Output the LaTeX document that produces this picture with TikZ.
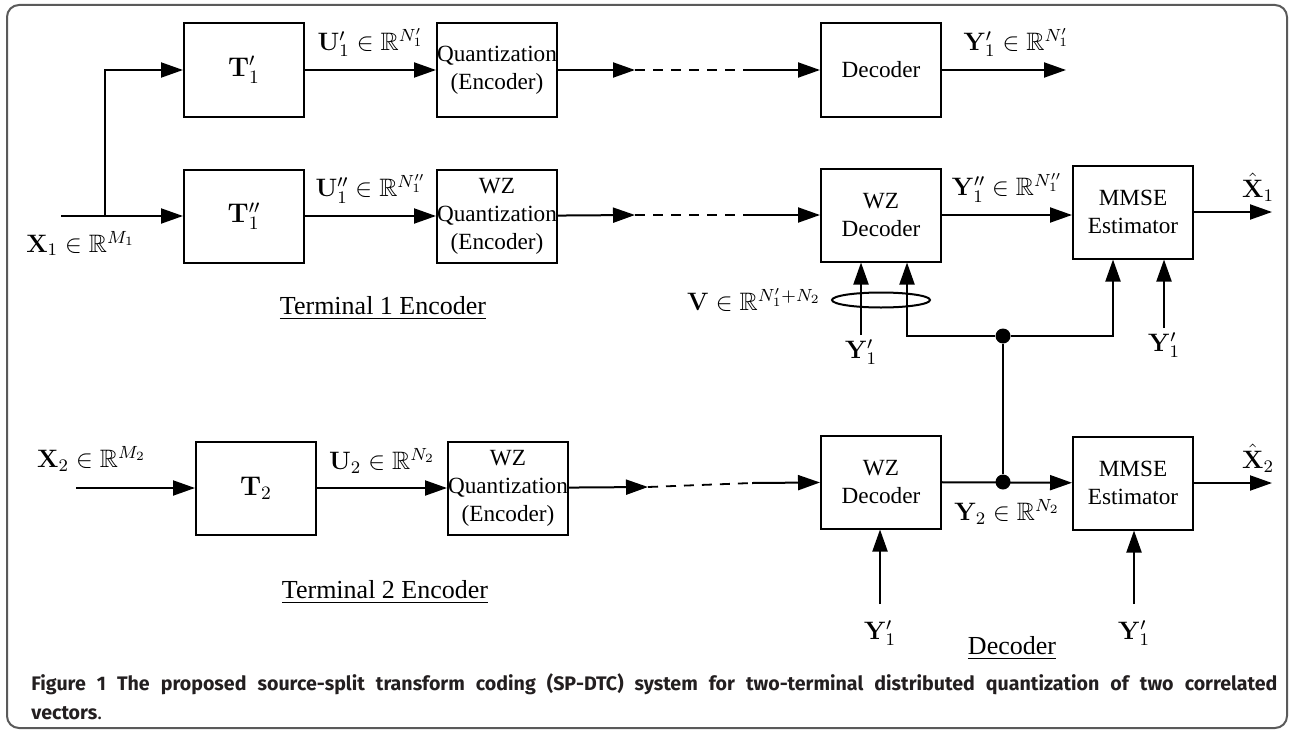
\RequirePackage{fix-cm}
\documentclass[tikz,border=0pt]{standalone}
\usepackage{amsmath,amssymb}
\usepackage[no-math]{fontspec}
\setmainfont{Liberation Serif}
\newfontfamily\capfont{Fira Sans}
\usepackage{xcolor}
\usepackage{tikz}
\usetikzlibrary{calc,arrows.meta,positioning,shapes.geometric}
\definecolor{framec}{HTML}{5A5A5A}
\definecolor{capc}{HTML}{231F20}
\tikzset{
  ar/.style={-{Triangle[length=11pt,width=7.5pt]},line width=1pt},
  ln/.style={line width=1pt},
  dsh/.style={line width=0.9pt,dash pattern=on 5pt off 4pt},
  box/.style={draw,line width=1pt,minimum width=60pt,minimum height=46.5pt,inner sep=0pt,align=center,font=\fontsize{11.6}{14}\selectfont},
  tbox/.style={box,font=\fontsize{13.5}{15}\selectfont},
  lbl/.style={font=\fontsize{12.6}{14}\selectfont,inner sep=2pt},
  jdot/.style={circle,fill,minimum size=7.5pt,inner sep=0pt},
  ttl/.style={font=\fontsize{13}{15}\selectfont}
}

\begin{document}
\begin{tikzpicture}[x=0.5pt,y=-0.5pt]
\useasboundingbox (0,0) rectangle (1293,733);
\draw[framec,line width=1pt,rounded corners=6pt] (7,5) rectangle (1287,728);

% terminal 1, first branch
\node[tbox] (T1a) at (244,70) {$\mathbf{T}'_1$};
\node[box] (Q1a) at (497,70) {Quantization\\(Encoder)};
\node[box] (D1a) at (881,70) {Decoder};
% terminal 1, second branch
\node[tbox] (T1b) at (244,216) {$\mathbf{T}''_1$};
\node[box] (Q1b) at (497,216) {WZ\\Quantization\\(Encoder)};
\node[box] (D1b) at (881,215) {WZ\\Decoder};
\node[box] (E1) at (1133,212) {MMSE\\Estimator};
% terminal 2
\node[tbox] (T2) at (256,488) {$\mathbf{T}_2$};
\node[box] (Q2) at (508,488) {WZ\\Quantization\\(Encoder)};
\node[box] (D2) at (881,482) {WZ\\Decoder};
\node[box] (E2) at (1133,483) {MMSE\\Estimator};

\coordinate (in1) at (61,216);
\coordinate (sp1) at (105,216);
\coordinate (in2) at (76,488);
\coordinate (a1) at (635,70);
\coordinate (b1) at (744,70);
\coordinate (a2) at (635,215);
\coordinate (b2) at (746,215);
\coordinate (a3) at (648,487);
\coordinate (b3) at (752,483);
\coordinate (o1) at (1066,70);
\coordinate (o2) at (1272,212);
\coordinate (o3) at (1272,483);

% first branch
\draw[ar] (in1)--(T1b) node[lbl,pos=0.16,below=5pt]{$\mathbf{X}_1\in\mathbb{R}^{M_1}$};
\draw[ar] (sp1) |- (T1a);
\draw[ar] (T1a)--(Q1a) node[lbl,midway,above=4pt]{$\mathbf{U}'_1\in\mathbb{R}^{N'_1}$};
\draw[ar] (Q1a)--(a1);
\draw[dsh] (a1)--(b1);
\draw[ar] (b1)--(D1a);
\draw[ar] (D1a)--(o1) node[lbl,pos=0.6,above=4pt]{$\mathbf{Y}'_1\in\mathbb{R}^{N'_1}$};

% second branch
\draw[ar] (T1b)--(Q1b) node[lbl,midway,above=4pt]{$\mathbf{U}''_1\in\mathbb{R}^{N''_1}$};
\draw[ar] (Q1b)--(a2);
\draw[dsh] (a2)--(b2);
\draw[ar] (b2)--(D1b);
\draw[ar] (D1b.east)--(D1b.east -| E1.west) node[lbl,midway,above=4pt]{$\mathbf{Y}''_1\in\mathbb{R}^{N''_1}$};
\draw[ar] (E1)--(o2) node[lbl,pos=0.82,above=3pt]{$\hat{\mathbf{X}}_1$};

% terminal 2
\draw[ar] (in2)--(T2) node[lbl,pos=0.13,above=6pt]{$\mathbf{X}_2\in\mathbb{R}^{M_2}$};
\draw[ar] (T2)--(Q2) node[lbl,midway,above=5pt]{$\mathbf{U}_2\in\mathbb{R}^{N_2}$};
\draw[ar] (Q2)--(a3);
\draw[dsh] (a3)--(b3);
\draw[ar] (b3)--(D2);
\draw[ar] (D2)--(E2) node[lbl,midway,below=6pt]{$\mathbf{Y}_2\in\mathbb{R}^{N_2}$};
\node[jdot] (j2) at (1003,482) {};
\draw[ar] (E2)--(o3) node[lbl,pos=0.82,above=3pt]{$\hat{\mathbf{X}}_2$};

% side information V
\node[jdot] (j1) at (1003,336) {};
\draw[ln] (j2)--(j1);
\coordinate (k1) at (907,336);
\coordinate (k2) at (1113,336);
\draw[ar] (j1)--(k1)--(k1 |- D1b.south);
\draw[ar] (j1)--(k2)--(k2 |- E1.south);
\node[draw,ellipse,line width=1pt,minimum width=49pt,minimum height=7.5pt,inner sep=0pt] (vgrp) at (881,300) {};
\node[lbl,left=3pt of vgrp] (vlbl) {$\mathbf{V}\in\mathbb{R}^{N'_1+N_2}$};

% Y1' inputs
\node[lbl] (s1) at (861,352) {$\mathbf{Y}'_1$};
\node[lbl] (s2) at (1164,345) {$\mathbf{Y}'_1$};
\node[lbl] (s3) at (880,633) {$\mathbf{Y}'_1$};
\node[lbl] (s4) at (1134,633) {$\mathbf{Y}'_1$};
\draw[ar] (s1.north)--(s1.north |- D1b.south);
\draw[ar] (s2.north)--(s2.north |- E1.south);
\draw[ar] ([yshift=6pt]s3.north)--(s3.north |- D2.south);
\draw[ar] ([yshift=6pt]s4.north)--(s4.north |- E2.south);

% block titles
\node[ttl] (t1enc) at (383,308) {\underline{Terminal 1 Encoder}};
\node[ttl] (t2enc) at (385,592) {\underline{Terminal 2 Encoder}};
\node[ttl] (dec) at (1012,648) {\underline{Decoder}};

% caption
\node[anchor=base west,inner sep=0pt,text=capc,font=\capfont\fontsize{9.8}{14.5}\selectfont] (cap) at (31,690)
  {\parbox[t]{623pt}{\bfseries Figure 1 The proposed source-split transform coding (SP-DTC) system for two-terminal distributed quantization of two correlated\linebreak vectors{\mdseries .}}};
\end{tikzpicture}
\end{document}
